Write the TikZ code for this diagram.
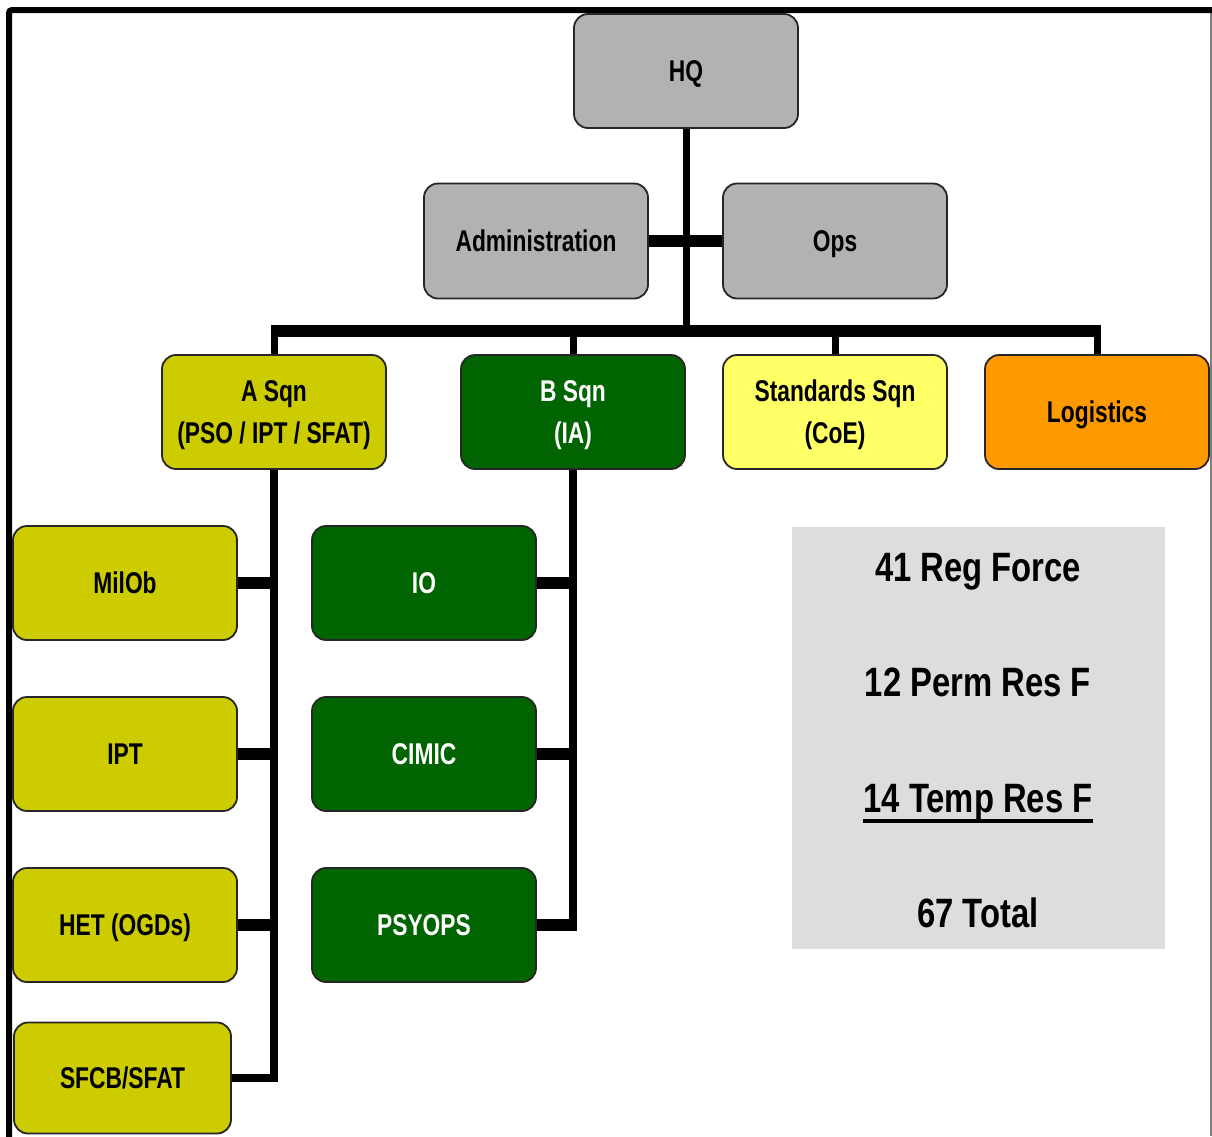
\documentclass[tikz,border=0pt]{standalone}
\usepackage{fontspec}
\setmainfont[FakeStretch=0.8]{Liberation Sans}
\newfontfamily\boxfont[FakeStretch=0.76]{Liberation Sans}
\begin{document}
\begin{tikzpicture}[x=1pt,y=-1pt,
  box/.style={draw=black!85, line width=1.8pt, rounded corners=14pt, minimum width=224pt, minimum height=114pt, inner sep=0pt, text depth=0pt, align=center, text=black, font=\boxfont\fontsize{30}{42}\selectfont\bfseries},
  greybox/.style={box, fill=gray!60},
  olivebox/.style={box, fill=olive1},
  greenbox/.style={box, fill=green1, text=white},
  thinc/.style={line width=7pt, black},
  midc/.style={line width=8pt, black},
  thickc/.style={line width=12pt, black},
  stat/.style={inner sep=0pt, font=\fontsize{41}{48}\selectfont\bfseries, anchor=base}
]
\definecolor{olive1}{HTML}{CCCC00}
\definecolor{green1}{HTML}{006400}
\definecolor{yel1}{HTML}{FFFF66}
\definecolor{orange1}{HTML}{FF9900}
\definecolor{statbg}{HTML}{DDDDDD}
\useasboundingbox (0,0) rectangle (1212,1136);
\fill[white] (0,0) rectangle (1212,1136);
% frame
\draw[line width=1.5pt, gray] (1211,10) -- (1211,1136);
\draw[line width=6pt, black, rounded corners=3pt] (9,1140) -- (9,10) -- (1214,10);

% nodes
\node[greybox] (HQ) at (686,71) {HQ};
\node[greybox, minimum height=115pt] (Admin) at (536,241) {Administration};
\node[greybox, minimum height=115pt] (Ops) at (835,241) {Ops};
\node[olivebox] (ASqn) at (274,412) {A Sqn\\(PSO / IPT / SFAT)};
\node[greenbox] (BSqn) at (573,412) {B Sqn\\(IA)};
\node[box, fill=yel1] (Std) at (835,412) {Standards Sqn\\(CoE)};
\node[box, fill=orange1] (Log) at (1097,412) {Logistics};

\node[olivebox] (MilOb) at (125,583) {MilOb};
\node[olivebox] (IPT) at (125,754) {IPT};
\node[olivebox] (HET) at (125,925) {HET (OGDs)};
\node[olivebox, minimum width=217pt, minimum height=111pt] (SFCB) at (122.5,1078) {SFCB/SFAT};

\node[greenbox] (IO) at (424,583) {IO};
\node[greenbox] (CIMIC) at (424,754) {CIMIC};
\node[greenbox] (PSYOPS) at (424,925) {PSYOPS};

\coordinate (bus) at (686,331);

% connectors
\draw[thinc] (HQ.south) -- (bus);
\draw[thickc] (Admin.east) -- (Ops.west);
\draw[thickc] ([xshift=-3.5pt]ASqn.north |- bus) -- ([xshift=3.5pt]Log.north |- bus);
\draw[thinc] (ASqn.north) -- ([yshift=-6pt]ASqn.north |- bus);
\draw[thinc] (BSqn.north) -- ([yshift=-6pt]BSqn.north |- bus);
\draw[thinc] (Std.north) -- ([yshift=-6pt]Std.north |- bus);
\draw[thinc] (Log.north) -- ([yshift=-6pt]Log.north |- bus);

\draw[midc, line join=miter] (ASqn.south) -- (ASqn.south |- SFCB.east) -- (SFCB.east);
\draw[thickc] (MilOb.east) -- ([xshift=4pt]MilOb.east -| ASqn.south);
\draw[thickc] (IPT.east) -- ([xshift=4pt]IPT.east -| ASqn.south);
\draw[thickc] (HET.east) -- ([xshift=4pt]HET.east -| ASqn.south);

\draw[midc] (BSqn.south) -- ([yshift=-6pt]BSqn.south |- PSYOPS.east);
\draw[thickc] (IO.east) -- ([xshift=4pt]IO.east -| BSqn.south);
\draw[thickc] (CIMIC.east) -- ([xshift=4pt]CIMIC.east -| BSqn.south);
\draw[thickc] (PSYOPS.east) -- ([xshift=4pt]PSYOPS.east -| BSqn.south);

% stats box
\fill[statbg] (792,527) rectangle (1165,949);
\node[stat] (s1) at (978,581) {41 Reg Force};
\node[stat] (s2) at (978,696) {12 Perm Res F};
\node[stat] (s3) at (978,812) {14 Temp Res F};
\node[stat] (s4) at (978,927) {67 Total};
\draw[line width=4pt, black] ([yshift=-8.5pt]s3.base west) -- ([yshift=-8.5pt]s3.base east);
\end{tikzpicture}
\end{document}
